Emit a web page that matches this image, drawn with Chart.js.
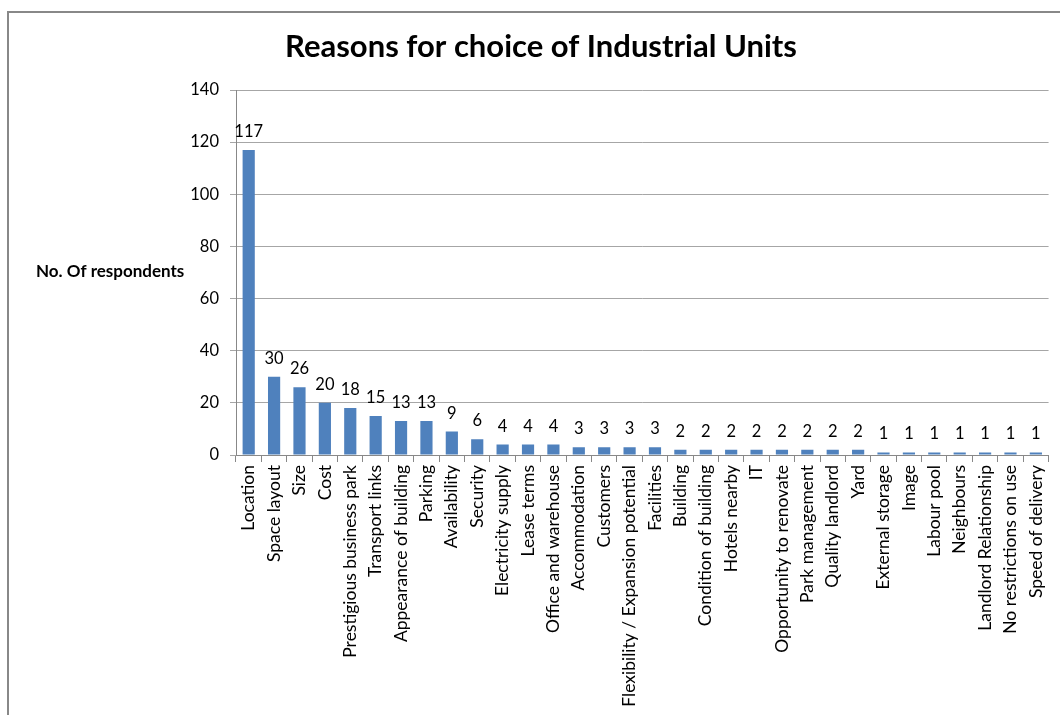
<!DOCTYPE html>
<html>
<head>
<meta charset="utf-8">
<script src="https://cdn.jsdelivr.net/npm/chart.js@4/dist/chart.umd.min.js"></script>
<style>
html,body{margin:0;padding:0;background:#fff;}
#wrap{position:relative;width:1060px;height:715px;}
canvas{display:block;}
</style>
</head>
<body>
<div id="wrap"><canvas id="c" width="1060" height="715"></canvas></div>
<script>
const chartTitle = "Reasons for choice of Industrial Units";
const yAxisTitle = "No. Of respondents";
const categories = [
  "Location","Space layout","Size","Cost","Prestigious business park","Transport links",
  "Appearance of building","Parking","Availability","Security","Electricity supply",
  "Lease terms","Office and warehouse","Accommodation","Customers",
  "Flexibility / Expansion potential","Facilities","Building","Condition of building",
  "Hotels nearby","IT","Opportunity to renovate","Park management","Quality landlord",
  "Yard","External storage","Image","Labour pool","Neighbours","Landlord Relationship",
  "No restrictions on use","Speed of delivery"
];
const respondents = [117,30,26,20,18,15,13,13,9,6,4,4,4,3,3,3,3,2,2,2,2,2,2,2,2,1,1,1,1,1,1,1];
const yTicks = [0,20,40,60,80,100,120,140];

const FONT = "Lato, 'Open Sans', sans-serif";

const decor = {
  id: 'decor',
  beforeDraw(chart) {
    const ctx = chart.ctx;
    ctx.save();
    ctx.fillStyle = '#fff';
    ctx.fillRect(0, 0, chart.width, chart.height);
    ctx.strokeStyle = '#888888';
    ctx.lineWidth = 2;
    ctx.beginPath();
    ctx.moveTo(8, chart.height);
    ctx.lineTo(8, 12);
    ctx.lineTo(chart.width, 12);
    ctx.stroke();
    ctx.fillStyle = '#000';
    ctx.font = "bold 31px " + FONT;
    ctx.textAlign = 'center';
    ctx.textBaseline = 'middle';
    ctx.fillText(chartTitle, 541, 47);
    ctx.font = "bold 17px " + FONT;
    ctx.textAlign = 'left';
    ctx.fillText(yAxisTitle, 36, 272);
    ctx.restore();
  },
  afterDatasetsDraw(chart) {
    const ctx = chart.ctx;
    const meta = chart.getDatasetMeta(0);
    ctx.save();
    ctx.fillStyle = '#000';
    ctx.font = "16.5px " + FONT;
    ctx.textAlign = 'center';
    ctx.textBaseline = 'alphabetic';
    meta.data.forEach((bar, i) => {
      ctx.fillText(String(respondents[i]), bar.x, bar.y - 13);
    });
    ctx.restore();
  }
};

new Chart(document.getElementById('c'), {
  type: 'bar',
  data: {
    labels: categories,
    datasets: [{
      data: respondents,
      backgroundColor: '#4F81BD',
      borderWidth: 0,
      categoryPercentage: 1.0,
      barPercentage: 0.48
    }]
  },
  options: {
    responsive: false,
    animation: false,
    devicePixelRatio: 1,
    layout: { padding: { left: 0, top: 90, right: 8, bottom: 0 } },
    plugins: {
      legend: { display: false },
      tooltip: { enabled: false },
      title: { display: false }
    },
    scales: {
      x: {
        grid: { display: true, drawOnChartArea: false, drawTicks: true, tickLength: 7, color: '#888888', offset: true },
        border: { display: true, color: '#888888', width: 1 },
        ticks: {
          autoSkip: false, maxRotation: 90, minRotation: 90, padding: 3,
          color: '#000', font: { family: FONT, size: 17.5 }
        },
        afterFit(s) { s.height = 260; }
      },
      y: {
        min: 0, max: 140,
        afterBuildTicks(s) { s.ticks = yTicks.map(v => ({ value: v })); },
        grid: { color: '#A6A6A6', tickLength: 6, drawTicks: true },
        border: { display: true, color: '#888888', width: 1 },
        ticks: { padding: 11, color: '#000', font: { family: FONT, size: 16.5 } },
        afterFit(s) { s.width = 236; }
      }
    }
  },
  plugins: [decor]
});
</script>
</body>
</html>
